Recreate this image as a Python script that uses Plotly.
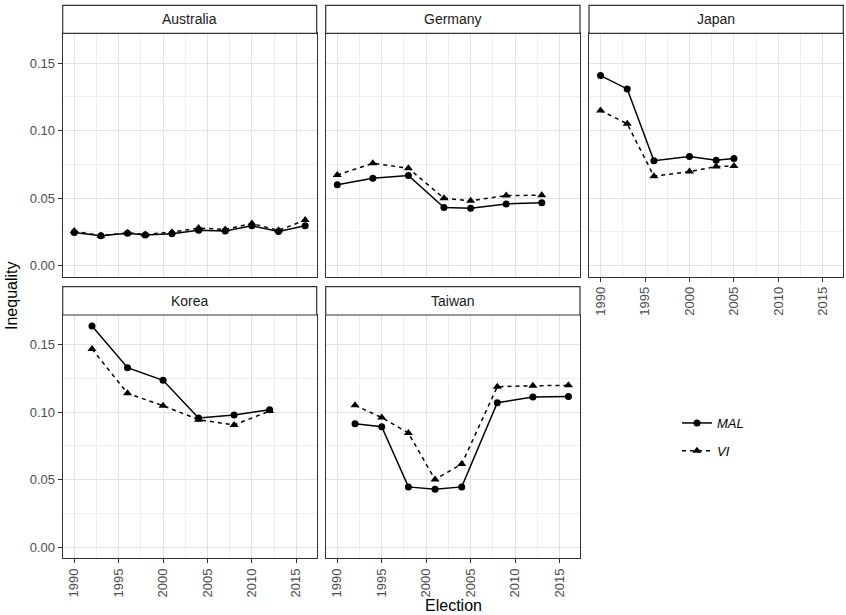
import plotly.graph_objects as go

# ---------------- data ----------------
countries = ["Australia", "Germany", "Japan", "Korea", "Taiwan"]

australia_years = [1990, 1993, 1996, 1998, 2001, 2004, 2007, 2010, 2013, 2016]
australia_mal = [0.0246, 0.0221, 0.0239, 0.0226, 0.0236, 0.0261, 0.0256, 0.0295, 0.0253, 0.0295]
australia_vi = [0.0256, 0.0221, 0.0243, 0.0231, 0.0248, 0.0278, 0.0268, 0.0312, 0.0261, 0.0337]

germany_years = [1990, 1994, 1998, 2002, 2005, 2009, 2013]
germany_mal = [0.0598, 0.0647, 0.0667, 0.0430, 0.0425, 0.0457, 0.0465]
germany_vi = [0.0671, 0.0758, 0.0721, 0.0499, 0.0480, 0.0519, 0.0521]

japan_years = [1990, 1993, 1996, 2000, 2003, 2005]
japan_mal = [0.1407, 0.1308, 0.0777, 0.0807, 0.0780, 0.0794]
japan_vi = [0.1149, 0.1050, 0.0662, 0.0696, 0.0733, 0.0738]

korea_years = [1992, 1996, 2000, 2004, 2008, 2012]
korea_mal = [0.1638, 0.1330, 0.1236, 0.0957, 0.0979, 0.1019]
korea_vi = [0.1468, 0.1140, 0.1048, 0.0945, 0.0905, 0.1009]

taiwan_years = [1992, 1995, 1998, 2001, 2004, 2008, 2012, 2016]
taiwan_mal = [0.0915, 0.0893, 0.0447, 0.0430, 0.0447, 0.1070, 0.1113, 0.1117]
taiwan_vi = [0.1051, 0.0960, 0.0846, 0.0501, 0.0617, 0.1189, 0.1196, 0.1199]

series_names = ["MAL", "VI"]
x_ticks = [1990, 1995, 2000, 2005, 2010, 2015]
y_ticks = [0.00, 0.05, 0.10, 0.15]
y_tick_labels = ["0.00", "0.05", "0.10", "0.15"]

panel_data = {
    "Australia": (australia_years, australia_mal, australia_vi),
    "Germany": (germany_years, germany_mal, germany_vi),
    "Japan": (japan_years, japan_mal, japan_vi),
    "Korea": (korea_years, korea_mal, korea_vi),
    "Taiwan": (taiwan_years, taiwan_mal, taiwan_vi),
}

# ---------------- layout geometry (pixels) ----------------
W, H = 846, 615
col_px = [(62.7, 316.7), (325.7, 580.0), (589.0, 843.3)]
row_plot_px = [(33.3, 276.7), (315.0, 558.3)]
row_strip_px = [(5.3, 33.3), (286.7, 315.0)]

positions = {
    "Australia": (0, 0), "Germany": (0, 1), "Japan": (0, 2),
    "Korea": (1, 0), "Taiwan": (1, 1),
}
# panels that show x tick labels (bottom of their column)
x_label_panels = {"Japan", "Korea", "Taiwan"}

def px_x(p):
    return p / W

def px_y(p):
    return 1 - p / H

fig = go.Figure()
INK = "#333333"
TICKC = "#4D4D4D"
FONT = "Liberation Sans, Arial, sans-serif"
GRID = "#E3E3E3"
MINOR = "#EFEFEF"

shapes = []
annotations = []

for i, c in enumerate(countries):
    r, col = positions[c]
    n = i + 1
    xa = "x" if n == 1 else f"x{n}"
    ya = "y" if n == 1 else f"y{n}"
    yrs, mal, vi = panel_data[c]
    show_leg = (i == 0)
    fig.add_trace(go.Scatter(
        x=yrs, y=mal, xaxis=xa, yaxis=ya, mode="lines+markers",
        name="<i>MAL</i>", legendgroup="MAL", showlegend=show_leg,
        line=dict(color="black", width=1.5),
        marker=dict(symbol="circle", size=7, color="black"),
    ))
    fig.add_trace(go.Scatter(
        x=yrs, y=vi, xaxis=xa, yaxis=ya, mode="lines+markers",
        name="<i>VI</i>", legendgroup="VI", showlegend=show_leg,
        line=dict(color="black", width=1.5, dash="4px,4px"),
        marker=dict(symbol="triangle-up", size=8, color="black"),
    ))

    x0, x1 = col_px[col]
    yt, yb = row_plot_px[r]
    xkey = "xaxis" if n == 1 else f"xaxis{n}"
    ykey = "yaxis" if n == 1 else f"yaxis{n}"
    show_x = c in x_label_panels
    show_y = col == 0
    fig.update_layout(**{
        xkey: dict(
            domain=[px_x(x0), px_x(x1)], anchor=ya, range=[1988.7, 2017.3],
            tickvals=x_ticks, ticktext=[str(t) for t in x_ticks],
            showticklabels=show_x, ticks="outside" if show_x else "",
            ticklen=4, tickwidth=1, tickcolor=INK, tickangle=-90,
            tickfont=dict(family=FONT, size=13, color=TICKC),
            showgrid=True, gridcolor=GRID, gridwidth=1.2,
            minor=dict(dtick=2.5, tick0=1987.5, showgrid=True, gridcolor=MINOR, gridwidth=1),
            showline=True, mirror=True, linecolor=INK, linewidth=1,
            zeroline=False, fixedrange=True,
        ),
        ykey: dict(
            domain=[px_y(yb), px_y(yt)], anchor=xa, range=[-0.0082, 0.172],
            tickvals=y_ticks, ticktext=y_tick_labels,
            showticklabels=show_y, ticks="outside" if show_y else "",
            ticklen=4, tickwidth=1, tickcolor=INK,
            tickfont=dict(family=FONT, size=13, color=TICKC),
            showgrid=True, gridcolor=GRID, gridwidth=1.2,
            minor=dict(dtick=0.025, tick0=0.025, showgrid=True, gridcolor=MINOR, gridwidth=1),
            showline=True, mirror=True, linecolor=INK, linewidth=1,
            zeroline=False, fixedrange=True,
        ),
    })

    st, sb = row_strip_px[r]
    shapes.append(dict(
        type="rect", xref="paper", yref="paper",
        x0=px_x(x0), x1=px_x(x1), y0=px_y(sb), y1=px_y(st),
        line=dict(color=INK, width=1.2), fillcolor="white", layer="above",
    ))
    annotations.append(dict(
        text=c, xref="paper", yref="paper",
        x=px_x((x0 + x1) / 2), y=px_y((st + sb) / 2),
        xanchor="center", yanchor="middle", showarrow=False,
        font=dict(family=FONT, size=14, color="#1A1A1A"),
    ))

annotations.append(dict(
    text="Election", xref="paper", yref="paper",
    x=px_x((62.7 + 843.3) / 2), y=px_y(605), xanchor="center", yanchor="middle",
    showarrow=False, font=dict(family=FONT, size=16, color="black"),
))
annotations.append(dict(
    text="Inequality", xref="paper", yref="paper", textangle=-90,
    x=px_x(11), y=px_y(296), xanchor="center", yanchor="middle",
    showarrow=False, font=dict(family=FONT, size=16, color="black"),
))

fig.update_layout(
    width=W, height=H,
    margin=dict(l=0, r=0, t=0, b=0),
    paper_bgcolor="white", plot_bgcolor="white",
    shapes=shapes, annotations=annotations,
    showlegend=True,
    legend=dict(
        x=px_x(677), y=px_y(437), xanchor="left", yanchor="middle",
        itemwidth=30, tracegroupgap=8, traceorder="grouped",
        font=dict(family=FONT, size=13, color="black"),
        bgcolor="rgba(0,0,0,0)",
    ),
)

fig.write_html(
    "out.html",
    config={"displayModeBar": False},
    post_script="document.body.style.margin='0';document.body.style.overflow='hidden';",
)
